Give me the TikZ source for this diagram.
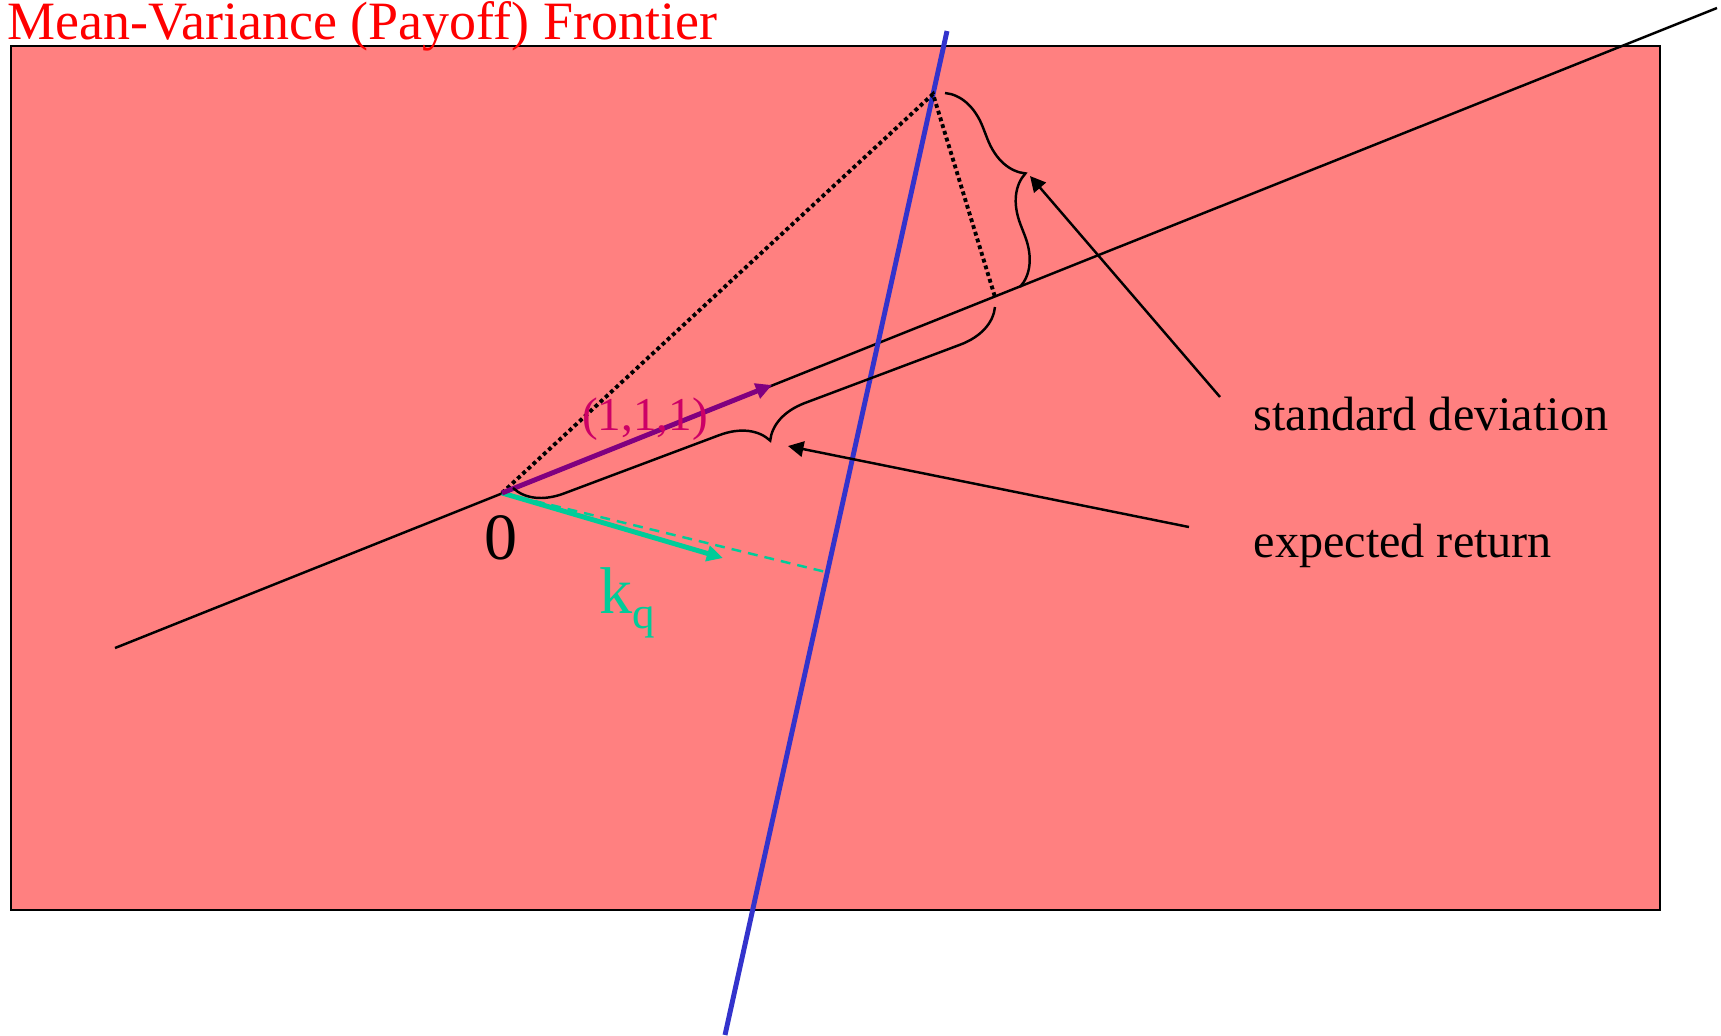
\documentclass[tikz,border=0pt]{standalone}
\usepackage{fontspec}
\setmainfont{Liberation Serif}
\usetikzlibrary{arrows.meta,decorations.pathreplacing}
\definecolor{bgred}{RGB}{255,128,128}
\definecolor{lineblue}{RGB}{51,51,204}
\definecolor{vecpurple}{RGB}{128,0,128}
\definecolor{labmagenta}{RGB}{204,0,102}
\definecolor{kgreen}{RGB}{0,204,153}
\tikzset{
  brc/.style={decorate, decoration={brace, amplitude=0.46cm}, line width=0.7pt},
  callout/.style={-{Triangle[length=4.4pt,width=4.4pt]}, line width=0.7pt},
  vec/.style={-{Triangle[length=4.6pt,width=4.4pt]}, line width=1.4pt},
  lab/.style={inner sep=0pt, font=\fontsize{13.7}{16}\selectfont},
}
\begin{document}
\begin{tikzpicture}[x=0.01cm, y=-0.01cm]
  \useasboundingbox (0,0) rectangle (1721,1035);
  % background panel and title
  \filldraw[fill=bgred, draw=black, line width=0.8pt] (11,46) rectangle (1660,910);
  \node[red, anchor=base west, inner sep=0pt, font=\fontsize{15.35}{18}\selectfont] (title) at (7,39) {Mean-Variance (Payoff) Frontier};
  % points
  \coordinate (O) at (502,493);
  \coordinate (lineA) at (115,648);
  \coordinate (lineB) at (1717,8);
  \coordinate (blueA) at (947,31);
  \coordinate (blueB) at (725,1035);
  \coordinate (P) at (933,94);
  \coordinate (Q) at (995,297);
  % line through 0 and the frontier
  \draw[line width=0.7pt] (lineA) -- (lineB);
  \draw[lineblue, line width=1.4pt] (blueA) -- (blueB);
  % dotted triangle
  \draw[line width=1.1pt, dash pattern=on 1.1pt off 0.9pt] (O) -- (P) -- (Q);
  % vectors
  \draw[kgreen, line width=0.7pt, dash pattern=on 2.8pt off 2pt] (O) -- (830,573);
  \draw[vec, kgreen] (O) -- (723,558);
  \draw[vec, vecpurple] (O) -- (772,385);
  % braces
  \draw[brc] (945,93) -- (1020,287);
  \draw[brc] (995,307) -- (513,488);
  % labels
  \node[lab, anchor=base west] (sdlab) at (1253,430) {standard deviation};
  \node[lab, anchor=base west] (erlab) at (1253,557) {expected return};
  \node[inner sep=0pt, anchor=base, font=\fontsize{18.8}{20}\selectfont] (zerolab) at (501,559) {0};
  \node[labmagenta, inner sep=0pt, anchor=base, font=\fontsize{13.4}{16}\selectfont] (onelab) at (645,430) {(1,1,1)};
  \node[kgreen, inner sep=0pt, anchor=base west, font=\fontsize{18.8}{20}\selectfont] (klab) at (599,613) {k\raisebox{-4.3pt}{\fontsize{12.8}{14}\selectfont q}};
  % callouts
  \coordinate (sdtail) at (1220,397);
  \coordinate (sdtip) at (1030,176);
  \coordinate (ertail) at (1189,527);
  \coordinate (ertip) at (788,446);
  \draw[callout] (sdtail) -- (sdtip);
  \draw[callout] (ertail) -- (ertip);
\end{tikzpicture}
\end{document}
